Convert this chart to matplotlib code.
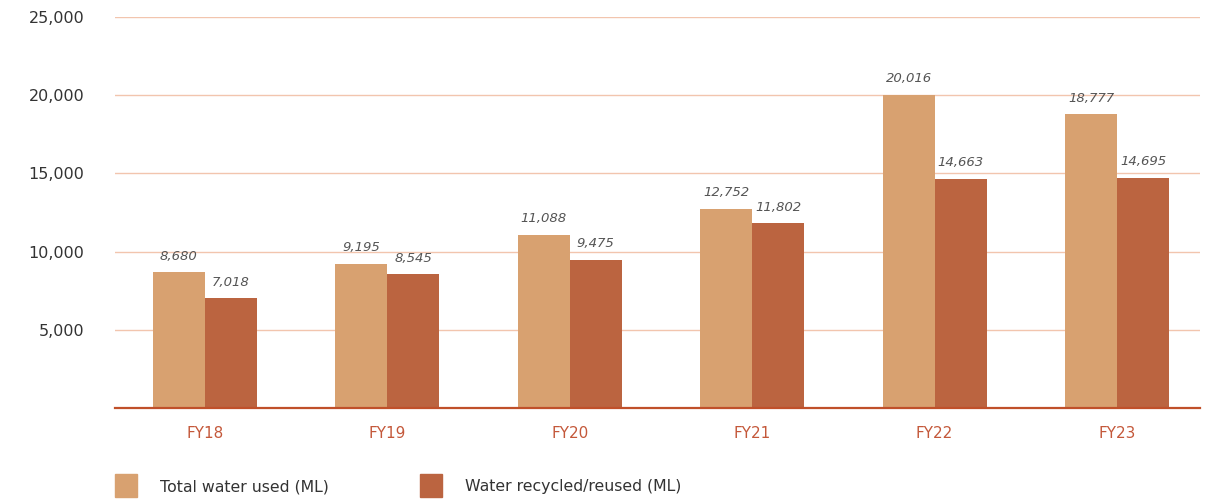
import matplotlib
matplotlib.use("Agg")
import matplotlib.pyplot as plt
from matplotlib.patches import Rectangle
from matplotlib.ticker import FuncFormatter
import numpy as np

plt.rcParams['font.family'] = ['DejaVu Sans']

years = ["FY18", "FY19", "FY20", "FY21", "FY22", "FY23"]
total_used = [8680, 9195, 11088, 12752, 20016, 18777]
recycled = [7018, 8545, 9475, 11802, 14663, 14695]
series_names = ["Total water used (ML)", "Water recycled/reused (ML)"]
y_ticks = [5000, 10000, 15000, 20000, 25000]

c_total = "#d8a170"
c_recycled = "#bb6440"
c_grid = "#f2c5ae"
c_base = "#c0502a"
c_cat = "#c4583a"
c_text = "#333333"
c_val = "#555555"

W, H = 1217, 499
fig = plt.figure(figsize=(W / 100, H / 100), dpi=100)
ax = fig.add_axes([115 / W, 1 - 408 / H, (1200 - 115) / W, (408 - 17) / H])

x = np.arange(len(years))
bw = 0.285
b1 = ax.bar(x - bw / 2, total_used, bw, color=c_total, zorder=3)
b2 = ax.bar(x + bw / 2, recycled, bw, color=c_recycled, zorder=3)

for bars, vals in ((b1, total_used), (b2, recycled)):
    for rect, v in zip(bars, vals):
        ax.annotate(f"{v:,}", (rect.get_x() + rect.get_width() / 2, v),
                    xytext=(0, 7), textcoords="offset points",
                    ha="center", va="bottom", fontsize=9.5, style="italic",
                    color=c_val, zorder=4)

ax.set_xlim(-0.493, 5.455)
ax.set_ylim(0, 25000)
ax.set_yticks(y_ticks)
ax.yaxis.set_major_formatter(FuncFormatter(lambda v, p: f"{int(v):,}"))
ax.grid(axis="y", color=c_grid, linewidth=1, zorder=0)
ax.axhline(0, color=c_base, linewidth=1.6, zorder=5, clip_on=False)

ax.set_xticks(x)
ax.set_xticklabels(years, color=c_cat, fontsize=11)
ax.tick_params(axis="x", length=0, pad=13)
ax.tick_params(axis="y", length=0, pad=22, labelsize=11.5, labelcolor=c_text)
for s in ax.spines.values():
    s.set_visible(False)

# legend drawn in figure pixels
for (px, col, name) in ((115, c_total, series_names[0]),
                        (420, c_recycled, series_names[1])):
    fig.add_artist(Rectangle((px / W, 1 - 497 / H), 22 / W, 23 / H,
                             transform=fig.transFigure, color=col))
    fig.text((px + 45) / W, 1 - 487 / H, name, fontsize=11.3,
             color=c_text, va="center", ha="left")

fig.savefig("out.png", dpi=100)
